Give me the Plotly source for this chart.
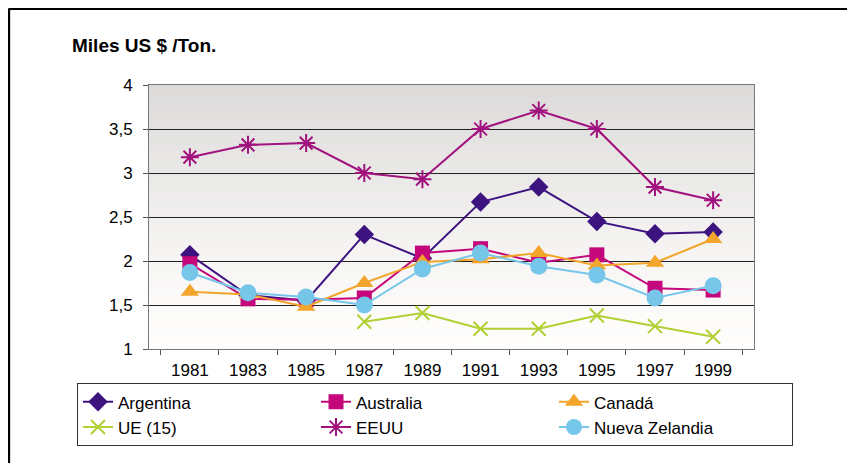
import plotly.graph_objects as go

years = ["1981", "1983", "1985", "1987", "1989", "1991", "1993", "1995", "1997", "1999"]

argentina = [2.07, 1.61, 1.55, 2.30, 2.03, 2.67, 2.84, 2.45, 2.31, 2.33]
australia = [1.97, 1.57, 1.56, 1.58, 2.09, 2.14, 1.98, 2.07, 1.69, 1.67]
canada = [1.65, 1.62, 1.48, 1.75, 1.99, 2.02, 2.09, 1.95, 1.98, 2.25]
ue15 = [None, None, None, 1.31, 1.41, 1.23, 1.23, 1.38, 1.26, 1.14]
eeuu = [3.18, 3.32, 3.34, 3.00, 2.93, 3.50, 3.71, 3.50, 2.84, 2.69]
nueva_zelandia = [1.87, 1.64, 1.59, 1.50, 1.91, 2.09, 1.94, 1.84, 1.58, 1.72]

ytick_vals = [1, 1.5, 2, 2.5, 3, 3.5, 4]
ytick_text = ["1", "1,5", "2", "2,5", "3", "3,5", "4"]

series = [
    ("Argentina", argentina, "#3d1380", "diamond", 15, 0),
    ("Australia", australia, "#c4087c", "square", 15, 0),
    ("Canadá", canada, "#f2a52a", "triangle-up", 16, 0),
    ("UE (15)", ue15, "#b0d034", "x-thin-open", 14, 2),
    ("EEUU", eeuu, "#a2127e", "asterisk-open", 15, 2),
    ("Nueva Zelandia", nueva_zelandia, "#76c6ea", "circle", 17, 0),
]

fig = go.Figure()
for name, vals, col, sym, size, lw in series:
    mk = dict(symbol=sym, size=size, color=col)
    if lw:
        mk["line"] = dict(color=col, width=lw)
    fig.add_trace(go.Scatter(x=years, y=vals, name=name, mode="lines+markers",
                             line=dict(color=col, width=2), marker=mk))

# vertical gray-to-white gradient behind the plot area
shapes = []
n = 60
for i in range(n):
    t = i / (n - 1)
    c = int(255 - (255 - 220) * t ** 1.3)
    shapes.append(dict(type="rect", xref="paper", yref="paper", x0=0, x1=1,
                       y0=i / n, y1=(i + 1) / n + 0.002, fillcolor=f"rgb({c},{c-1},{c-2})",
                       line=dict(width=0), layer="below"))
# outer frame (only top and left edges are visible)
shapes.append(dict(type="line", xref="paper", yref="paper", x0=-0.232, x1=1.2,
                   y0=1.29, y1=1.29, line=dict(color="black", width=3)))
shapes.append(dict(type="line", xref="paper", yref="paper", x0=-0.232, x1=-0.232,
                   y0=1.29, y1=-0.5, line=dict(color="black", width=3)))

fig.update_layout(
    width=855, height=463,
    margin=dict(l=141, r=109, t=77, b=122, autoexpand=False),
    paper_bgcolor="white", plot_bgcolor="rgba(0,0,0,0)",
    font=dict(family="Liberation Sans, Arial", color="black"),
    title=dict(text="<b>Miles US $ /Ton.</b>", x=64 / 855, xanchor="left",
               y=1 - 37 / 463, yanchor="middle", font=dict(size=19)),
    shapes=shapes,
    showlegend=True,
    legend=dict(orientation="h", x=-0.119, y=-0.13, xanchor="left", yanchor="top",
                bordercolor="#333", borderwidth=1, bgcolor="white",
                font=dict(size=17), entrywidth=193, entrywidthmode="pixels",
                itemsizing="trace", tracegroupgap=0),
)
fig.update_xaxes(type="category", tickson="boundaries", ticks="outside", ticklen=5,
                 tickcolor="#555", showline=True, linecolor="#777", linewidth=1,
                 mirror=True, showgrid=False, tickfont=dict(size=17),
                 ticklabelstandoff=6)
fig.update_yaxes(range=[1, 4], tickvals=ytick_vals, ticktext=ytick_text,
                 ticks="outside", ticklen=5, tickcolor="#555", showline=True,
                 linecolor="#777", linewidth=1, mirror=True, showgrid=True,
                 gridcolor="#222", gridwidth=1, zeroline=False, tickfont=dict(size=17),
                 ticklabelstandoff=7)

fig.write_html("out.html")
